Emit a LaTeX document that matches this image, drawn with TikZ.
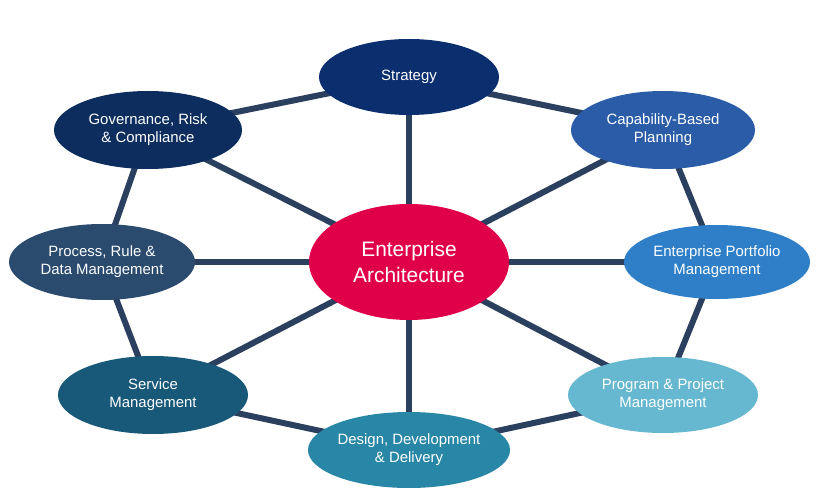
\documentclass[tikz,border=0pt]{standalone}
\usepackage{fontspec}
\setmainfont{Liberation Sans}
\usetikzlibrary{shapes.geometric,backgrounds}
\definecolor{link}{HTML}{2B3F5E}
\begin{document}
\begin{tikzpicture}[x=1bp,y=-1bp,
  el/.style={ellipse,draw=none,text=white,align=center,inner sep=0pt,font=\fontsize{15}{18}\selectfont},
  ln/.style={draw=link,line width=6bp}]
\useasboundingbox (0,0) rectangle (820,499);
\node[el,fill={rgb,255:red,10;green,46;blue,110},minimum width=180bp,minimum height=76bp] (s) at (409,77) {Strategy};
\node[el,fill={rgb,255:red,12;green,45;blue,94},minimum width=188bp,minimum height=78bp] (g) at (148,130) {Governance, Risk\\\& Compliance};
\node[el,fill={rgb,255:red,42;green,92;blue,168},minimum width=184bp,minimum height=78bp] (c) at (663,130) {Capability-Based\\Planning};
\node[el,fill={rgb,255:red,42;green,74;blue,110},minimum width=186bp,minimum height=76bp] (p) at (102,262) {Process, Rule \&\\Data Management};
\node[el,fill={rgb,255:red,46;green,127;blue,200},minimum width=186bp,minimum height=74bp] (e) at (717,262) {Enterprise Portfolio\\Management};
\node[el,fill={rgb,255:red,24;green,88;blue,120},minimum width=190bp,minimum height=78bp] (v) at (153,395) {Service\\Management};
\node[el,fill={rgb,255:red,102;green,184;blue,208},minimum width=190bp,minimum height=76bp] (r) at (663,395) {Program \& Project\\Management};
\node[el,fill={rgb,255:red,40;green,134;blue,166},minimum width=194bp,minimum height=76bp] (d) at (409,450) {Design, Development\\\& Delivery};
\node[el,fill={rgb,255:red,224;green,0;blue,74},minimum width=200bp,minimum height=116bp,font=\fontsize{21}{26}\selectfont] (a) at (409,262) {Enterprise\\Architecture};
\begin{scope}[on background layer]
\foreach \n in {s,g,c,p,e,v,r,d} \draw[ln] (a.center) -- (\n.center);
\draw[ln] (s.center) -- (c.center) -- (e.center) -- (r.center) -- (d.center) -- (v.center) -- (p.center) -- (g.center) -- (s.center);
\end{scope}
\end{tikzpicture}
\end{document}
